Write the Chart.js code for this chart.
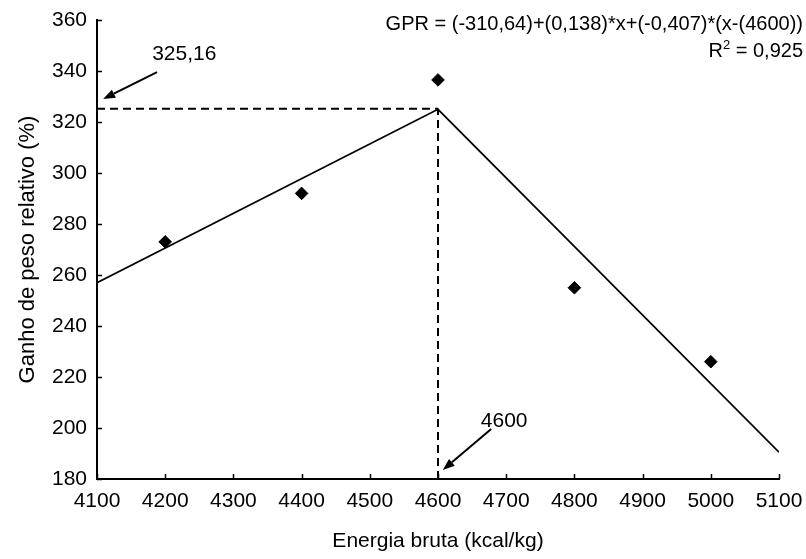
<!DOCTYPE html>
<html lang="pt">
<head>
  <meta charset="UTF-8">
  <title>Ganho de peso relativo</title>
  <script src="https://cdn.jsdelivr.net/npm/chart.js"></script>
  <style>
    html, body { margin: 0; padding: 0; background: #fff; }
    #wrap { width: 806px; height: 559px; }
  </style>
</head>
<body>
  <div id="wrap"><canvas id="grafico" width="806" height="559"></canvas></div>

  <script>
    // dados
    const energia = [4200, 4400, 4600, 4800, 5000];
    const gpr = [273, 292, 336.5, 255, 226];

    // reta segmentada (broken-line)
    const retaX = [4100, 4600, 5100];
    const retaY = [257, 325, 190.5];

    const quebraX = 4600;
    const quebraY = 325.16;

    const xTicks = [4100, 4200, 4300, 4400, 4500, 4600, 4700, 4800, 4900, 5000, 5100];
    const yTicks = [180, 200, 220, 240, 260, 280, 300, 320, 340, 360];

    // setas com texto (coordenadas em unidades dos eixos)
    const anotTexto = ['325,16', '4600'];
    const anotPosX = [4228, 4697];
    const anotPosY = [346.5, 202.7];
    const setaDeX = [4188, 4678];
    const setaDeY = [339.6, 199.6];
    const setaParaX = [4109, 4607];
    const setaParaY = [329, 183.5];

    const equacao = 'GPR = (-310,64)+(0,138)*x+(-0,407)*(x-(4600))';
    const r2 = '0,925';

    const FONTE = '"Liberation Sans", Arial, sans-serif';

    const extras = {
      id: 'extras',
      afterDraw(chart) {
        const ctx = chart.ctx;
        const sx = chart.scales.x, sy = chart.scales.y;
        const area = chart.chartArea;
        ctx.save();
        ctx.strokeStyle = '#000';
        ctx.fillStyle = '#000';

        // marcas dos eixos para dentro
        ctx.lineWidth = 1.5;
        ctx.beginPath();
        xTicks.forEach(v => {
          const px = Math.round(sx.getPixelForValue(v)) + 0.5;
          ctx.moveTo(px, area.bottom);
          ctx.lineTo(px, area.bottom - 5);
        });
        yTicks.forEach(v => {
          const py = Math.round(sy.getPixelForValue(v)) + 0.5;
          ctx.moveTo(area.left, py);
          ctx.lineTo(area.left + 5, py);
        });
        ctx.stroke();

        // setas
        ctx.font = '21px ' + FONTE;
        ctx.textAlign = 'center';
        ctx.textBaseline = 'middle';
        anotTexto.forEach((t, i) => {
          ctx.fillText(t, sx.getPixelForValue(anotPosX[i]), sy.getPixelForValue(anotPosY[i]));
          const x1 = sx.getPixelForValue(setaDeX[i]), y1 = sy.getPixelForValue(setaDeY[i]);
          const x2 = sx.getPixelForValue(setaParaX[i]), y2 = sy.getPixelForValue(setaParaY[i]);
          const ang = Math.atan2(y2 - y1, x2 - x1);
          const cab = 12, larg = 4.5;
          const bx = x2 - cab * Math.cos(ang), by = y2 - cab * Math.sin(ang);
          ctx.lineWidth = 2;
          ctx.beginPath();
          ctx.moveTo(x1, y1);
          ctx.lineTo(bx, by);
          ctx.stroke();
          ctx.beginPath();
          ctx.moveTo(x2, y2);
          ctx.lineTo(bx + larg * Math.sin(ang), by - larg * Math.cos(ang));
          ctx.lineTo(bx - larg * Math.sin(ang), by + larg * Math.cos(ang));
          ctx.closePath();
          ctx.fill();
        });

        // equação e R²
        const dir = chart.width - 3;
        ctx.textAlign = 'right';
        ctx.textBaseline = 'alphabetic';
        ctx.font = '20px ' + FONTE;
        ctx.fillText(equacao, dir, 30);
        const resto = ' = ' + r2;
        const wResto = ctx.measureText(resto).width;
        ctx.fillText(resto, dir, 57);
        ctx.font = '13px ' + FONTE;
        const w2 = ctx.measureText('2').width;
        ctx.fillText('2', dir - wResto, 49);
        ctx.font = '20px ' + FONTE;
        ctx.fillText('R', dir - wResto - w2, 57);
        ctx.restore();
      }
    };

    const pontos = energia.map((x, i) => ({ x: x, y: gpr[i] }));
    const reta = retaX.map((x, i) => ({ x: x, y: retaY[i] }));

    new Chart(document.getElementById('grafico'), {
      type: 'scatter',
      data: {
        datasets: [
          {
            data: reta, showLine: true, borderColor: '#000', borderWidth: 1.8,
            pointRadius: 0, tension: 0
          },
          {
            data: [{ x: retaX[0], y: quebraY }, { x: quebraX, y: quebraY }],
            showLine: true, borderColor: '#000', borderWidth: 2, borderDash: [8, 5], pointRadius: 0
          },
          {
            data: [{ x: quebraX, y: yTicks[0] }, { x: quebraX, y: quebraY }],
            showLine: true, borderColor: '#000', borderWidth: 2, borderDash: [8, 5], pointRadius: 0
          },
          {
            data: pontos, pointStyle: 'rectRot', pointRadius: 6.3,
            backgroundColor: '#000', borderColor: '#000', borderWidth: 1
          }
        ]
      },
      options: {
        responsive: false,
        animation: false,
        layout: { padding: { top: 20, right: 27, left: 0, bottom: 0 } },
        plugins: { legend: { display: false }, tooltip: { enabled: false } },
        scales: {
          x: {
            type: 'linear',
            min: xTicks[0], max: xTicks[xTicks.length - 1],
            afterBuildTicks: s => { s.ticks = xTicks.map(v => ({ value: v })); },
            afterFit: s => { s.height = 80; s.paddingLeft = 0; s.paddingRight = 0; },
            grid: { display: false, drawTicks: false },
            border: { display: true, color: '#000', width: 2 },
            ticks: {
              color: '#000', font: { size: 21, family: FONTE }, padding: 10,
              maxRotation: 0, autoSkip: false, callback: v => String(v)
            },
            title: {
              display: true, text: 'Energia bruta (kcal/kg)', color: '#000',
              font: { size: 21, family: FONTE }, padding: { top: 0, bottom: 5 }
            }
          },
          y: {
            type: 'linear',
            min: yTicks[0], max: yTicks[yTicks.length - 1],
            afterBuildTicks: s => { s.ticks = yTicks.map(v => ({ value: v })); },
            afterFit: s => { s.width = 97; s.paddingTop = 0; s.paddingBottom = 0; },
            grid: { display: false, drawTicks: false },
            border: { display: true, color: '#000', width: 2 },
            ticks: {
              color: '#000', font: { size: 21, family: FONTE }, padding: 10,
              autoSkip: false, callback: v => String(v)
            },
            title: {
              display: true, text: 'Ganho de peso relativo (%)', color: '#000',
              font: { size: 22, family: FONTE }, padding: { top: 15, bottom: 0 }
            }
          }
        }
      },
      plugins: [extras]
    });
  </script>
</body>
</html>
